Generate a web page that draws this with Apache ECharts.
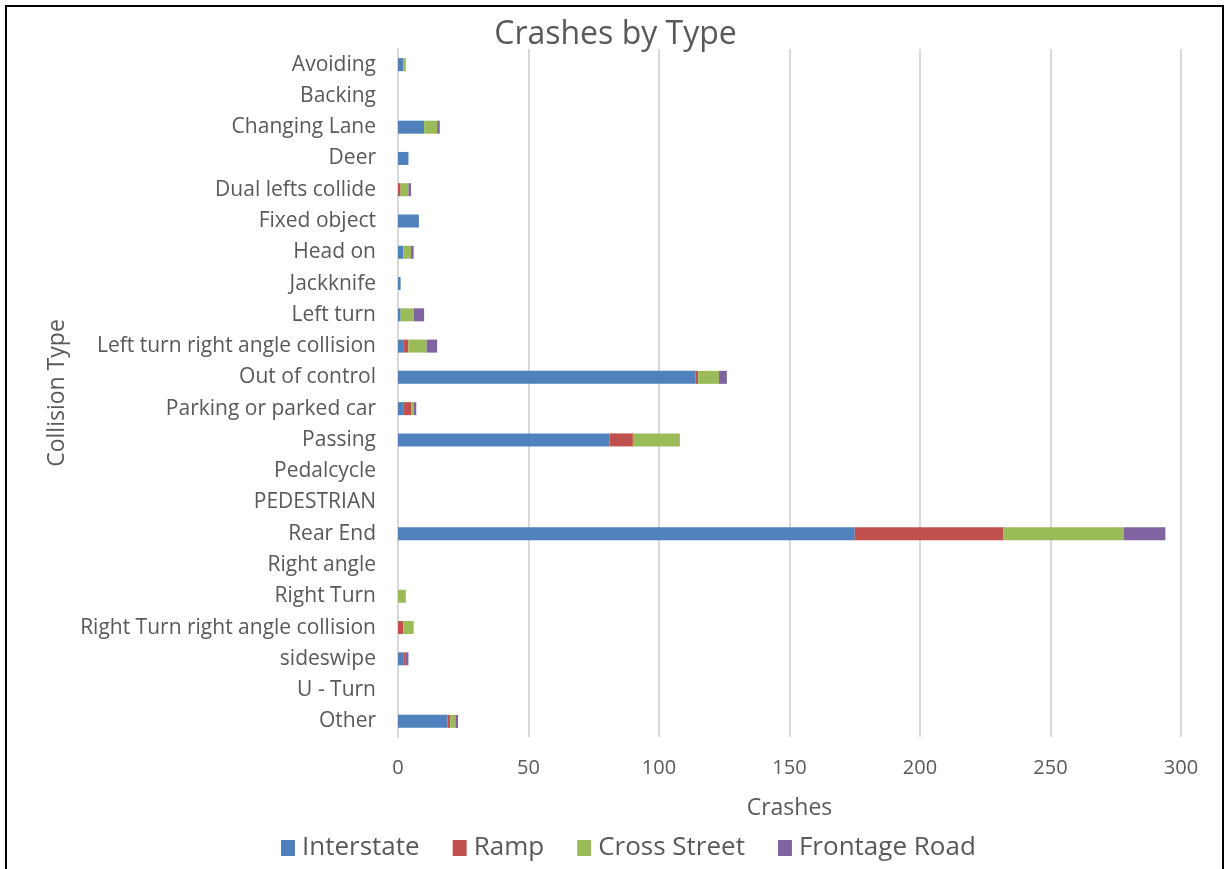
<!DOCTYPE html>
<html><head><meta charset="utf-8">
<script src="https://cdn.jsdelivr.net/npm/echarts@6/dist/echarts.min.js"></script>
<style>
html,body{margin:0;padding:0;background:#fff;}
#frame{position:absolute;left:5px;top:5px;width:1219px;height:880px;border:2px solid #000;box-sizing:border-box;}
#c{position:absolute;left:0;top:0;width:1231px;height:869px;}
</style></head>
<body><div id="frame"></div><div id="c"></div>
<script>
const categories = ["Avoiding","Backing","Changing Lane","Deer","Dual lefts collide","Fixed object","Head on","Jackknife","Left turn","Left turn right angle collision","Out of control","Parking or parked car","Passing","Pedalcycle","PEDESTRIAN","Rear End","Right angle","Right Turn","Right Turn right angle collision","sideswipe","U - Turn","Other"];
const interstate =   [2,0,10,4,0,8,2,1,1,2,114,2,81,0,0,175,0,0,0,2,0,19];
const ramp =         [0,0,0,0,1,0,0,0,0,2,1,3,9,0,0,57,0,0,2,1,0,1];
const crossStreet =  [1,0,5,0,3,0,3,0,5,7,8,1,18,0,0,46,0,3,4,0,0,2];
const frontageRoad = [0,0,1,0,1,0,1,0,4,4,3,1,0,0,0,16,0,0,0,1,0,1];
const seriesNames = ["Interstate","Ramp","Cross Street","Frontage Road"];
const colors = ["#4f81bd","#c0504d","#9bbb59","#8064a2"];
const xTicks = {min:0,max:300,interval:50};

const font = "'Open Sans', sans-serif";
const chart = echarts.init(document.getElementById('c'));
const dataSets = [interstate, ramp, crossStreet, frontageRoad];
chart.setOption({
  backgroundColor: 'transparent',
  animation: false,
  title: {text: 'Crashes by Type', left: 'center', top: 14,
    textStyle: {fontFamily: font, fontSize: 32, fontWeight: 'normal', color: '#595959'}},
  legend: {bottom: 3, left: 276, itemWidth: 14, itemHeight: 16, itemGap: 33,
    icon: 'rect',
    textStyle: {fontFamily: font, fontSize: 26, color: '#595959', padding:[0,0,0,2]},
    data: seriesNames},
  grid: {left: 398, right: 50, top: 49, bottom: 132, containLabel: false},
  xAxis: {type: 'value', min: xTicks.min, max: xTicks.max, interval: xTicks.interval,
    name: 'Crashes', nameLocation: 'middle', nameGap: 60,
    nameTextStyle: {fontFamily: font, fontSize: 23, color: '#595959'},
    axisLine: {show: false}, axisTick: {show: false},
    axisLabel: {fontFamily: font, fontSize: 20, color: '#595959', margin: 21},
    splitLine: {lineStyle: {color: '#d9d9d9', width: 2}}},
  yAxis: {type: 'category', data: categories, inverse: true,
    name: 'Collision Type', nameLocation: 'middle', nameGap: 328, nameRotate: 90,
    nameTextStyle: {fontFamily: font, fontSize: 23, color: '#595959'},
    axisLine: {show: true, lineStyle: {color: '#d9d9d9', width: 2}},
    axisTick: {show: false},
    axisLabel: {fontFamily: font, fontSize: 21, color: '#595959', margin: 22}},
  series: seriesNames.map((n,i)=>({
    name: n, type: 'bar', stack: 'total', data: dataSets[i],
    barWidth: 13, itemStyle: {color: colors[i]}
  }))
});
</script></body></html>
